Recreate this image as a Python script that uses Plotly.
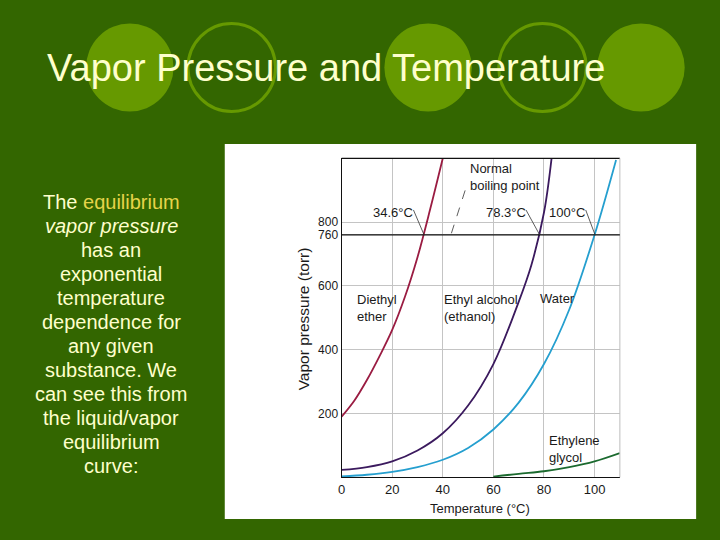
import plotly.graph_objects as go

# ---------------- data ----------------
ether_t = [0, 5, 10, 15, 20, 25, 30, 35, 40]
ether_p = [190, 240, 305, 380, 462, 565, 690, 840, 1000]

ethanol_t = [0, 10, 20, 30, 40, 50, 60, 70, 75, 80, 83]
ethanol_p = [23, 32, 50, 84, 138, 225, 355, 550, 665, 830, 1000]

water_t = [0, 10, 20, 30, 40, 50, 60, 70, 80, 90, 100, 108.5]
water_p = [3, 8, 17, 32, 55, 92, 150, 234, 355, 526, 760, 995]

glycol_t = [60, 70, 80, 90, 100, 110]
glycol_p = [2, 11, 19, 32, 50, 76]

x_ticks = [0, 20, 40, 60, 80, 100]
y_ticks = [200, 400, 600, 760, 800]
boiling_pressure = 760
boiling_labels = ["34.6°C", "78.3°C", "100°C"]
boiling_cross_t = [32.6, 78.3, 100.2]

body_lines = ["The <span style='color:#e6d44a'>equilibrium</span>", "<i>vapor pressure</i>",
              "has an", "exponential", "temperature", "dependence for", "any given",
              "substance. We", "can see this from", "the liquid/vapor", "equilibrium", "curve:"]

# ---------------- helpers ----------------
W, H = 720, 540
def fx(px):
    return px / W
def fy(py):
    return 1 - py / H

BG = "#336600"
CIRCLE = "#669900"
TXT = "#FFFFCC"
FONT = "Liberation Sans, Arial, sans-serif"

fig = go.Figure()

series = [
    (ether_t, ether_p, "#9a1c42", "Diethyl ether"),
    (ethanol_t, ethanol_p, "#3b1a5e", "Ethyl alcohol"),
    (water_t, water_p, "#259fcf", "Water"),
    (glycol_t, glycol_p, "#1b6a2f", "Ethylene glycol"),
]
for t, p, c, n in series:
    fig.add_trace(go.Scatter(x=t, y=p, mode="lines", name=n,
                             line=dict(color=c, width=1.8, shape="spline", smoothing=1.0),
                             showlegend=False, hoverinfo="skip"))

shapes = []
shapes.append(dict(type="rect", xref="paper", yref="paper", x0=fx(222), x1=fx(696),
                   y0=fy(519), y1=fy(144), fillcolor="white", line=dict(width=0), layer="below"))
for cx, filled in [(126.5, True), (229, False), (426.5, True), (541.5, False), (640.5, True)]:
    r = 44
    shapes.append(dict(type="circle", xref="paper", yref="paper",
                       x0=fx(cx - r), x1=fx(cx + r), y0=fy(67.5 + r), y1=fy(67.5 - r),
                       fillcolor=CIRCLE if filled else "rgba(0,0,0,0)",
                       line=dict(color=CIRCLE, width=0 if filled else 3), layer="below"))
shapes.append(dict(type="line", xref="x domain", yref="y domain", x0=0, x1=1, y0=1, y1=1,
                   line=dict(color="#111111", width=1.2)))
shapes.append(dict(type="line", xref="x domain", yref="y domain", x0=1, x1=1, y0=0, y1=1,
                   line=dict(color="#bdbdbd", width=1)))
shapes.append(dict(type="line", xref="x domain", yref="y", x0=0, x1=1,
                   y0=boiling_pressure, y1=boiling_pressure, line=dict(color="#111111", width=1.3)))
leader_starts = [(28.4, 838), (72.9, 838), (96.5, 838)]
for (sx, sy), ct in zip(leader_starts, boiling_cross_t):
    shapes.append(dict(type="line", xref="x", yref="y", x0=sx, y0=sy, x1=ct, y1=boiling_pressure,
                       line=dict(color="#333333", width=0.8)))
shapes.append(dict(type="line", xref="x", yref="y", x0=43.4, y0=765, x1=49.3, y1=911,
                   line=dict(color="#333333", width=0.8, dash="dash")))

ann = []
ann.append(dict(text="Vapor Pressure and Temperature", xref="paper", yref="paper",
                x=fx(41), y=fy(68), xanchor="left", yanchor="middle", showarrow=False,
                font=dict(family=FONT, size=38, color=TXT)))
for i, line in enumerate(body_lines):
    ann.append(dict(text=line, xref="paper", yref="paper", x=fx(108), y=fy(202 + 24 * i),
                    xanchor="center", yanchor="middle", align="center", showarrow=False,
                    font=dict(family=FONT, size=20, color=TXT)))

lab_font = dict(family=FONT, size=13, color="#1a1a1a")
for txt, lx in zip(boiling_labels, [20.2, 64.9, 89.0]):
    ann.append(dict(text=txt, x=lx, y=829, xref="x", yref="y", showarrow=False,
                    xanchor="center", yanchor="middle", font=lab_font))
for txt, lx, ly in [("Normal<br>boiling point", 50.0, 940),
                    ("Diethyl<br>ether", 5.3, 531),
                    ("Ethyl alcohol<br>(ethanol)", 39.8, 531),
                    ("Water", 77.5, 562),
                    ("Ethylene<br>glycol", 81.2, 89)]:
    ann.append(dict(text=txt, x=lx, y=ly, xref="x", yref="y", showarrow=False,
                    xanchor="left", yanchor="middle", align="left", font=lab_font))
ann.append(dict(text="Vapor pressure (torr)", xref="paper", yref="paper", x=fx(301), y=fy(319),
                textangle=-90, showarrow=False, xanchor="center", yanchor="middle",
                font=dict(family=FONT, size=15.5, color="#1a1a1a")))
ann.append(dict(text="Temperature (°C)", xref="paper", yref="paper", x=fx(479), y=fy(509),
                showarrow=False, xanchor="center", yanchor="middle", font=lab_font))

fig.update_layout(
    width=W, height=H, margin=dict(l=0, r=0, t=0, b=0),
    paper_bgcolor=BG, plot_bgcolor="white",
    shapes=shapes, annotations=ann,
    xaxis=dict(domain=[fx(339.5), fx(619.3)], range=[0, 110], tickvals=x_ticks,
               showgrid=True, gridcolor="#c4c4c4", gridwidth=1, zeroline=False,
               showline=True, linecolor="#111111", linewidth=1.2, ticks="",
               tickfont=dict(family=FONT, size=13, color="#1a1a1a")),
    yaxis=dict(domain=[fy(477.3), fy(158.3)], range=[0, 1000], tickvals=y_ticks,
               showgrid=True, gridcolor="#c4c4c4", gridwidth=1, zeroline=False,
               showline=True, linecolor="#111111", linewidth=1.2, ticks="",
               tickfont=dict(family=FONT, size=12, color="#1a1a1a")),
)

fig.write_html("out.html", config={"displayModeBar": False},
               post_script="document.body.style.margin='0';document.body.style.overflow='hidden';"
                           "document.documentElement.style.overflow='hidden';")
